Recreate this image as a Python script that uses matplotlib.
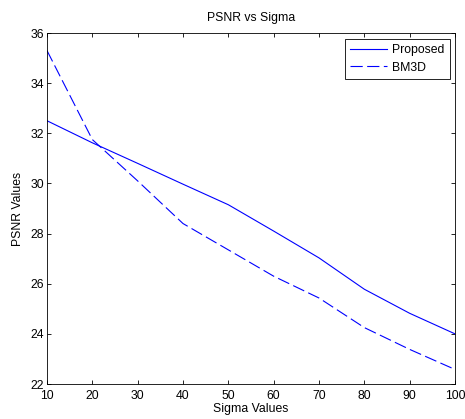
import matplotlib
matplotlib.use("Agg")
import matplotlib.pyplot as plt

sigma = [10, 20, 30, 40, 50, 60, 70, 80, 90, 100]
proposed = [32.5, 31.62, 30.8, 29.97, 29.15, 28.1, 27.03, 25.78, 24.82, 24.0]
bm3d = [35.3, 31.75, 30.1, 28.4, 27.35, 26.3, 25.43, 24.25, 23.38, 22.58]

plt.rcParams['font.family'] = ['Liberation Sans', 'DejaVu Sans']
plt.rcParams['font.size'] = 8.8

fig = plt.figure(figsize=(4.65, 4.19), dpi=100)
ax = fig.add_axes([47/465, 35/419, 408/465, 351/419])

ax.plot(sigma, proposed, color='blue', lw=0.8, label='Proposed')
ax.plot(sigma, bm3d, color='blue', lw=0.8, dashes=(11, 4), label='BM3D')

ax.set_xlim(10, 100)
ax.set_ylim(22, 36)
ax.set_xticks(range(10, 101, 10))
ax.set_yticks(range(22, 37, 2))
ax.tick_params(direction='in', top=True, right=True, length=3, width=0.6, labelsize=8.8)
ax.tick_params(axis='x', pad=4)
ax.tick_params(axis='y', pad=2)
for s in ax.spines.values():
    s.set_linewidth(0.6)

ax.set_title('PSNR vs Sigma', fontsize=8.8, pad=9)
ax.set_xlabel('Sigma Values', fontsize=8.8, labelpad=1)
ax.set_ylabel('PSNR Values', fontsize=8.8, labelpad=5)

leg = ax.legend(loc='upper right', fontsize=8.8, fancybox=False, framealpha=1,
                edgecolor='black', borderaxespad=0.45, handlelength=3.0,
                borderpad=0.45, labelspacing=0.45, handletextpad=0.4)
leg.get_frame().set_linewidth(0.6)

fig.savefig('out.png', dpi=100)
